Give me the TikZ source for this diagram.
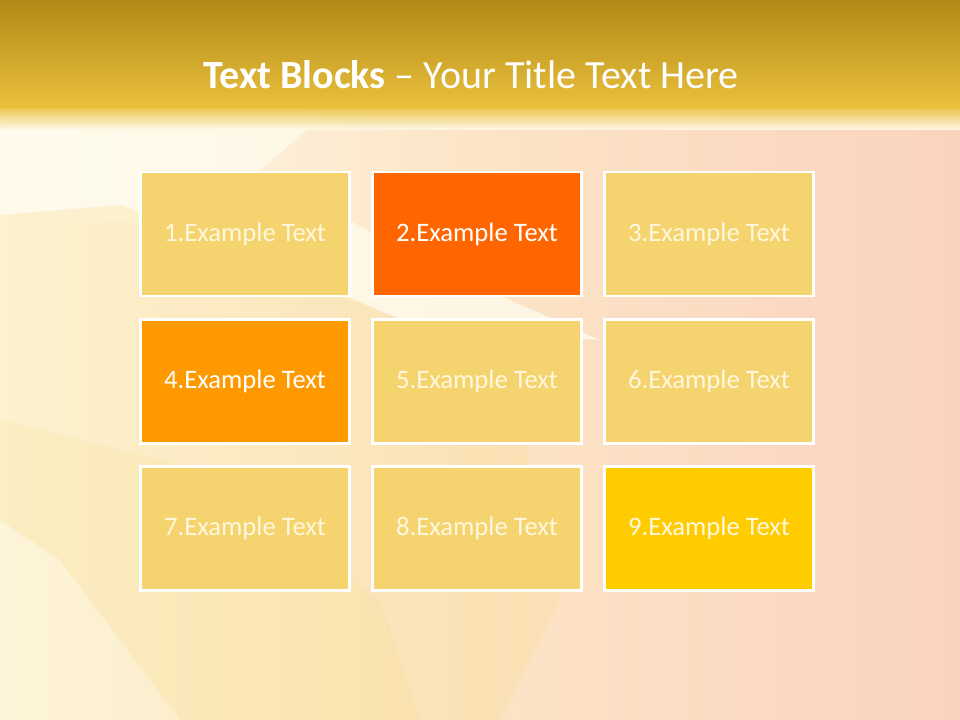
\documentclass[tikz,border=0pt]{standalone}
\usepackage{fontspec}
\setmainfont{Carlito}
\usepackage{xcolor}
\usetikzlibrary{positioning}

\definecolor{cream}{HTML}{FFFBEC}
\definecolor{peach}{HTML}{FAD3BE}
\definecolor{peachlight}{HTML}{FCE4C6}
\definecolor{streak}{HTML}{F8DE8E}
\definecolor{bardark}{HTML}{B08916}
\definecolor{barlight}{HTML}{EAC03C}
\definecolor{blocklight}{HTML}{F5D46F}
\definecolor{blockred}{HTML}{FF6600}
\definecolor{blockorange}{HTML}{FF9900}
\definecolor{blockgold}{HTML}{FFCC00}
\definecolor{blocktext}{HTML}{FFF8DE}

\begin{document}
\begin{tikzpicture}[
  x=0.75pt, y=-0.75pt,
  node distance=15.5pt and 15pt,
  block/.style={draw=white, line width=2pt, fill=blocklight, text=blocktext,
    minimum width=157pt, minimum height=93pt, inner sep=0pt, font=\fontsize{20}{24}\selectfont},
  hot/.style={fill=blockred, text=white},
  warm/.style={fill=blockorange, text=white},
  sun/.style={fill=blockgold, text=blocktext}
]
  % background
  \useasboundingbox (0,0) rectangle (960,720);
  \shade[left color=cream, right color=peach, middle color=peachlight] (0,0) rectangle (960,720);
  \fill[cream, opacity=0.8]
    (0,110) -- (330,110) -- (260,170) -- (420,260) -- (600,340) -- (430,330)
    -- (250,260) -- (120,220) -- (0,230) -- cycle;
  \fill[streak, opacity=0.3]
    (0,215) -- (120,205) -- (250,250) -- (420,330) -- (520,420) -- (560,600) -- (500,720)
    -- (180,720) -- (60,560) -- (0,520) -- cycle;
  \fill[streak, opacity=0.2]
    (0,420) -- (200,470) -- (380,600) -- (420,720) -- (0,720) -- cycle;
  % title bar
  \shade[top color=bardark, bottom color=barlight] (0,0) rectangle (960,108);
  \shade[top color=barlight, bottom color=cream, opacity=0.9] (0,107) rectangle (960,130);
  \node[text=white, font=\fontsize{30}{34}\selectfont] (title) at (471,75)
    {\textbf{Text Blocks} – Your Title Text Here};
  % blocks
  \node[block] (b1) at (245,234) {1.Example Text};
  \node[block, hot, right=of b1] (b2) {2.Example Text};
  \node[block, right=of b2] (b3) {3.Example Text};
  \node[block, warm, below=of b1] (b4) {4.Example Text};
  \node[block, right=of b4] (b5) {5.Example Text};
  \node[block, right=of b5] (b6) {6.Example Text};
  \node[block, below=of b4] (b7) {7.Example Text};
  \node[block, right=of b7] (b8) {8.Example Text};
  \node[block, sun, right=of b8] (b9) {9.Example Text};
\end{tikzpicture}
\end{document}
